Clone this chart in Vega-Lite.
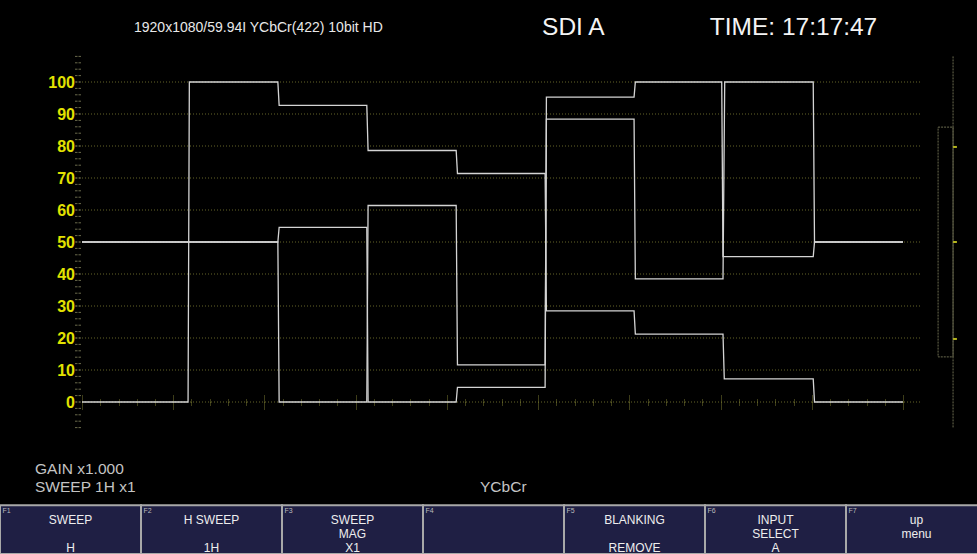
{
  "$schema": "https://vega.github.io/schema/vega-lite/v6.json",
  "width": 977,
  "height": 554,
  "autosize": {"type": "fit", "contains": "padding"},
  "padding": 0,
  "background": "#000000",
  "config": {"view": {"stroke": null}, "text": {"font": "Liberation Sans"}},
  "datasets": {
    "grid": [{"g": 0}, {"g": 10}, {"g": 20}, {"g": 30}, {"g": 40}, {"g": 50}, {"g": 60}, {"g": 70}, {"g": 80}, {"g": 90}, {"g": 100}],
    "yticks": [{"t": -8}, {"t": -6}, {"t": -4}, {"t": -2}, {"t": 0}, {"t": 2}, {"t": 4}, {"t": 6}, {"t": 8}, {"t": 10}, {"t": 12}, {"t": 14}, {"t": 16}, {"t": 18}, {"t": 20}, {"t": 22}, {"t": 24}, {"t": 26}, {"t": 28}, {"t": 30}, {"t": 32}, {"t": 34}, {"t": 36}, {"t": 38}, {"t": 40}, {"t": 42}, {"t": 44}, {"t": 46}, {"t": 48}, {"t": 50}, {"t": 52}, {"t": 54}, {"t": 56}, {"t": 58}, {"t": 60}, {"t": 62}, {"t": 64}, {"t": 66}, {"t": 68}, {"t": 70}, {"t": 72}, {"t": 74}, {"t": 76}, {"t": 78}, {"t": 80}, {"t": 82}, {"t": 84}, {"t": 86}, {"t": 88}, {"t": 90}, {"t": 92}, {"t": 94}, {"t": 96}, {"t": 98}, {"t": 100}, {"t": 102}, {"t": 104}, {"t": 106}, {"t": 108}],
    "trace": [
      {"sig": "Y", "x": 0, "v": 0}, {"sig": "Y", "x": 248, "v": 0}, {"sig": "Y", "x": 251, "v": 100}, {"sig": "Y", "x": 458, "v": 100},
      {"sig": "Y", "x": 461, "v": 92.7}, {"sig": "Y", "x": 666, "v": 92.7}, {"sig": "Y", "x": 669, "v": 78.6}, {"sig": "Y", "x": 875, "v": 78.6},
      {"sig": "Y", "x": 878, "v": 71.4}, {"sig": "Y", "x": 1083, "v": 71.4}, {"sig": "Y", "x": 1086, "v": 28.5}, {"sig": "Y", "x": 1291, "v": 28.5},
      {"sig": "Y", "x": 1294, "v": 21.2}, {"sig": "Y", "x": 1499, "v": 21.2}, {"sig": "Y", "x": 1502, "v": 7.2}, {"sig": "Y", "x": 1710, "v": 7.2},
      {"sig": "Y", "x": 1713, "v": 0}, {"sig": "Y", "x": 1920, "v": 0},
      {"sig": "Cb", "x": 0, "v": 50}, {"sig": "Cb", "x": 458, "v": 50}, {"sig": "Cb", "x": 461, "v": 0}, {"sig": "Cb", "x": 666, "v": 0},
      {"sig": "Cb", "x": 669, "v": 61.4}, {"sig": "Cb", "x": 875, "v": 61.4}, {"sig": "Cb", "x": 878, "v": 11.6}, {"sig": "Cb", "x": 1083, "v": 11.6},
      {"sig": "Cb", "x": 1086, "v": 88.4}, {"sig": "Cb", "x": 1291, "v": 88.4}, {"sig": "Cb", "x": 1294, "v": 38.5}, {"sig": "Cb", "x": 1499, "v": 38.5},
      {"sig": "Cb", "x": 1503, "v": 100}, {"sig": "Cb", "x": 1710, "v": 100}, {"sig": "Cb", "x": 1713, "v": 50}, {"sig": "Cb", "x": 1920, "v": 50},
      {"sig": "Cr", "x": 0, "v": 50}, {"sig": "Cr", "x": 458, "v": 50}, {"sig": "Cr", "x": 461, "v": 54.6}, {"sig": "Cr", "x": 666, "v": 54.6},
      {"sig": "Cr", "x": 669, "v": 0}, {"sig": "Cr", "x": 875, "v": 0}, {"sig": "Cr", "x": 878, "v": 4.6}, {"sig": "Cr", "x": 1083, "v": 4.6},
      {"sig": "Cr", "x": 1086, "v": 95.3}, {"sig": "Cr", "x": 1291, "v": 95.3}, {"sig": "Cr", "x": 1294, "v": 100}, {"sig": "Cr", "x": 1496, "v": 100},
      {"sig": "Cr", "x": 1499, "v": 45.4}, {"sig": "Cr", "x": 1710, "v": 45.4}, {"sig": "Cr", "x": 1713, "v": 50}, {"sig": "Cr", "x": 1920, "v": 50}
    ],
    "menu": [
      {"key": "F1", "l1": "SWEEP", "l2": "", "l3": "H"},
      {"key": "F2", "l1": "H SWEEP", "l2": "", "l3": "1H"},
      {"key": "F3", "l1": "SWEEP", "l2": "MAG", "l3": "X1"},
      {"key": "F4", "l1": "", "l2": "", "l3": ""},
      {"key": "F5", "l1": "BLANKING", "l2": "", "l3": "REMOVE"},
      {"key": "F6", "l1": "INPUT", "l2": "SELECT", "l3": "A"},
      {"key": "F7", "l1": "up", "l2": "menu", "l3": ""}
    ],
    "marks": [{"m": 79.7}, {"m": 50}, {"m": 19.7}]
  },
  "resolve": {"scale": {"x": "independent"}},
  "layer": [
    {
      "data": {"name": "grid"},
      "mark": {"type": "rule", "color": "#66662a", "strokeDash": [1, 2], "strokeWidth": 1},
      "encoding": {
        "x": {"datum": -14, "type": "quantitative", "scale": {"domain": [-191.8, 2093.0], "nice": false, "zero": false},
          "axis": {"orient": "bottom", "offset": -152, "title": null, "domain": false, "labels": false, "grid": false,
            "values": [0, 42.67, 85.33, 128, 170.67, 213.33, 256, 298.67, 341.33, 384, 426.67, 469.33, 512, 554.67, 597.33, 640, 682.67, 725.33, 768, 810.67, 853.33, 896, 938.67, 981.33, 1024, 1066.67, 1109.33, 1152, 1194.67, 1237.33, 1280, 1322.67, 1365.33, 1408, 1450.67, 1493.33, 1536, 1578.67, 1621.33, 1664, 1706.67, 1749.33, 1792, 1834.67, 1877.33, 1920],
            "tickColor": "#7a7a32", "tickDash": [1, 1], "tickWidth": 1,
            "tickSize": {"condition": {"test": "abs(datum.value/213.3333 - round(datum.value/213.3333)) < 0.01", "value": 7}, "value": 3.5}}},
        "x2": {"datum": 1964},
        "y": {"field": "g", "type": "quantitative", "scale": {"domain": [-47.5, 125.625], "nice": false, "zero": false}, "axis": null}
      }
    },
    {
      "data": {"name": "yticks"},
      "mark": {"type": "rule", "color": "#6a6a4c", "strokeDash": [2.5, 1], "strokeWidth": 1},
      "encoding": {
        "x": {"datum": -16.4, "type": "quantitative", "scale": {"domain": [-191.8, 2093.0], "nice": false, "zero": false}, "axis": null},
        "x2": {"datum": -2.3},
        "y": {"field": "t", "type": "quantitative", "scale": {"domain": [-47.5, 125.625], "nice": false, "zero": false}, "axis": null}
      }
    },
    {
      "data": {"name": "grid"},
      "mark": {"type": "text", "color": "#e2e200", "fontSize": 16, "fontWeight": "bold", "align": "right", "baseline": "middle", "dy": 1},
      "encoding": {
        "x": {"datum": -16.4, "type": "quantitative", "scale": {"domain": [-191.8, 2093.0], "nice": false, "zero": false}, "axis": null},
        "y": {"field": "g", "type": "quantitative", "scale": {"domain": [-47.5, 125.625], "nice": false, "zero": false}, "axis": null},
        "text": {"field": "g", "type": "quantitative"}
      }
    },
    {
      "data": {"name": "trace"},
      "mark": {"type": "line", "color": "#d4d4d4", "strokeWidth": 1.3, "interpolate": "linear"},
      "encoding": {
        "x": {"field": "x", "type": "quantitative", "scale": {"domain": [-191.8, 2093.0], "nice": false, "zero": false},
          "axis": {"orient": "top", "offset": -402, "title": null, "domain": false, "labels": false, "grid": false,
            "values": [0, 42.67, 85.33, 128, 170.67, 213.33, 256, 298.67, 341.33, 384, 426.67, 469.33, 512, 554.67, 597.33, 640, 682.67, 725.33, 768, 810.67, 853.33, 896, 938.67, 981.33, 1024, 1066.67, 1109.33, 1152, 1194.67, 1237.33, 1280, 1322.67, 1365.33, 1408, 1450.67, 1493.33, 1536, 1578.67, 1621.33, 1664, 1706.67, 1749.33, 1792, 1834.67, 1877.33, 1920],
            "tickColor": "#7a7a32", "tickDash": [1, 1], "tickWidth": 1,
            "tickSize": {"condition": {"test": "abs(datum.value/213.3333 - round(datum.value/213.3333)) < 0.01", "value": 7}, "value": 3.5}}},
        "y": {"field": "v", "type": "quantitative", "scale": {"domain": [-47.5, 125.625], "nice": false, "zero": false}, "axis": null},
        "detail": {"field": "sig"}
      }
    },
    {
      "data": {"values": [{"item": "range"}]},
      "mark": {"type": "rect", "filled": false, "stroke": "#6c6c50", "strokeDash": [2, 1], "strokeWidth": 1},
      "encoding": {
        "x": {"datum": 2002, "type": "quantitative", "scale": {"domain": [-191.8, 2093.0], "nice": false, "zero": false}, "axis": null},
        "x2": {"datum": 2037},
        "y": {"datum": 85.9, "type": "quantitative", "scale": {"domain": [-47.5, 125.625], "nice": false, "zero": false}, "axis": null},
        "y2": {"datum": 14.1}
      }
    },
    {
      "data": {"values": [{"item": "scale"}]},
      "mark": {"type": "rule", "color": "#6c6c50", "strokeDash": [2, 1], "strokeWidth": 1},
      "encoding": {
        "x": {"datum": 2037, "type": "quantitative", "scale": {"domain": [-191.8, 2093.0], "nice": false, "zero": false}, "axis": null},
        "y": {"datum": 108, "type": "quantitative", "scale": {"domain": [-47.5, 125.625], "nice": false, "zero": false}, "axis": null},
        "y2": {"datum": -8}
      }
    },
    {
      "data": {"name": "marks"},
      "mark": {"type": "rule", "color": "#b4b41e", "strokeWidth": 2},
      "encoding": {
        "x": {"datum": 2037, "type": "quantitative", "scale": {"domain": [-191.8, 2093.0], "nice": false, "zero": false}, "axis": null},
        "x2": {"datum": 2046},
        "y": {"field": "m", "type": "quantitative", "scale": {"domain": [-47.5, 125.625], "nice": false, "zero": false}, "axis": null}
      }
    },
    {
      "data": {"values": [{"item": "header"}]},
      "mark": {"type": "text", "text": "1920x1080/59.94I YCbCr(422) 10bit HD", "color": "#e8e8e8", "fontSize": 14, "align": "left", "baseline": "middle"},
      "encoding": {
        "x": {"datum": 121.6, "type": "quantitative", "scale": {"domain": [-191.8, 2093.0], "nice": false, "zero": false}, "axis": null},
        "y": {"datum": 116.9, "type": "quantitative", "scale": {"domain": [-47.5, 125.625], "nice": false, "zero": false}, "axis": null}
      }
    },
    {
      "data": {"values": [{"item": "input"}]},
      "mark": {"type": "text", "text": "SDI A", "color": "#f4f4f4", "fontSize": 24.5, "align": "left", "baseline": "middle"},
      "encoding": {
        "x": {"datum": 1075.8, "type": "quantitative", "scale": {"domain": [-191.8, 2093.0], "nice": false, "zero": false}, "axis": null},
        "y": {"datum": 116.9, "type": "quantitative", "scale": {"domain": [-47.5, 125.625], "nice": false, "zero": false}, "axis": null}
      }
    },
    {
      "data": {"values": [{"item": "time"}]},
      "mark": {"type": "text", "text": "TIME: 17:17:47", "color": "#f4f4f4", "fontSize": 24.5, "align": "left", "baseline": "middle"},
      "encoding": {
        "x": {"datum": 1468, "type": "quantitative", "scale": {"domain": [-191.8, 2093.0], "nice": false, "zero": false}, "axis": null},
        "y": {"datum": 116.9, "type": "quantitative", "scale": {"domain": [-47.5, 125.625], "nice": false, "zero": false}, "axis": null}
      }
    },
    {
      "data": {"values": [{"item": "gain"}]},
      "mark": {"type": "text", "text": "GAIN x1.000", "color": "#c4c4c4", "fontSize": 15.5, "align": "left", "baseline": "middle"},
      "encoding": {
        "x": {"datum": -109.9, "type": "quantitative", "scale": {"domain": [-191.8, 2093.0], "nice": false, "zero": false}, "axis": null},
        "y": {"datum": -20.94, "type": "quantitative", "scale": {"domain": [-47.5, 125.625], "nice": false, "zero": false}, "axis": null}
      }
    },
    {
      "data": {"values": [{"item": "sweep"}]},
      "mark": {"type": "text", "text": "SWEEP 1H x1", "color": "#c4c4c4", "fontSize": 15.5, "align": "left", "baseline": "middle"},
      "encoding": {
        "x": {"datum": -109.9, "type": "quantitative", "scale": {"domain": [-191.8, 2093.0], "nice": false, "zero": false}, "axis": null},
        "y": {"datum": -26.56, "type": "quantitative", "scale": {"domain": [-47.5, 125.625], "nice": false, "zero": false}, "axis": null}
      }
    },
    {
      "data": {"values": [{"item": "mode"}]},
      "mark": {"type": "text", "text": "YCbCr", "color": "#c4c4c4", "fontSize": 15.5, "align": "left", "baseline": "middle"},
      "encoding": {
        "x": {"datum": 930.8, "type": "quantitative", "scale": {"domain": [-191.8, 2093.0], "nice": false, "zero": false}, "axis": null},
        "y": {"datum": -26.56, "type": "quantitative", "scale": {"domain": [-47.5, 125.625], "nice": false, "zero": false}, "axis": null}
      }
    },
    {
      "data": {"name": "menu"},
      "mark": {"type": "rect", "fill": "#1f1f44", "stroke": "#a8a8a8", "strokeWidth": 2, "clip": true},
      "encoding": {
        "x": {"field": "key", "type": "nominal", "scale": {"type": "band", "domain": ["F1", "F2", "F3", "F4", "F5", "F6", "F7"], "range": [0, 987], "paddingInner": 0, "paddingOuter": 0}, "axis": null},
        "y": {"datum": -32.3, "type": "quantitative", "scale": {"domain": [-47.5, 125.625], "nice": false, "zero": false}, "axis": null},
        "y2": {"datum": -47.5}
      }
    },
    {
      "data": {"name": "menu"},
      "mark": {"type": "text", "color": "#bbbbbb", "fontSize": 7, "align": "left", "baseline": "middle", "dx": -68},
      "encoding": {
        "x": {"field": "key", "type": "nominal", "scale": {"type": "band", "domain": ["F1", "F2", "F3", "F4", "F5", "F6", "F7"], "range": [0, 987], "paddingInner": 0, "paddingOuter": 0}, "axis": null},
        "y": {"datum": -34.2, "type": "quantitative", "scale": {"domain": [-47.5, 125.625], "nice": false, "zero": false}, "axis": null},
        "text": {"field": "key"}
      }
    },
    {
      "data": {"name": "menu"},
      "mark": {"type": "text", "color": "#eeeeee", "fontSize": 12, "align": "center", "baseline": "middle"},
      "encoding": {
        "x": {"field": "key", "type": "nominal", "scale": {"type": "band", "domain": ["F1", "F2", "F3", "F4", "F5", "F6", "F7"], "range": [0, 987], "paddingInner": 0, "paddingOuter": 0}, "axis": null},
        "y": {"datum": -36.875, "type": "quantitative", "scale": {"domain": [-47.5, 125.625], "nice": false, "zero": false}, "axis": null},
        "text": {"field": "l1"}
      }
    },
    {
      "data": {"name": "menu"},
      "mark": {"type": "text", "color": "#eeeeee", "fontSize": 12, "align": "center", "baseline": "middle"},
      "encoding": {
        "x": {"field": "key", "type": "nominal", "scale": {"type": "band", "domain": ["F1", "F2", "F3", "F4", "F5", "F6", "F7"], "range": [0, 987], "paddingInner": 0, "paddingOuter": 0}, "axis": null},
        "y": {"datum": -41.25, "type": "quantitative", "scale": {"domain": [-47.5, 125.625], "nice": false, "zero": false}, "axis": null},
        "text": {"field": "l2"}
      }
    },
    {
      "data": {"name": "menu"},
      "mark": {"type": "text", "color": "#eeeeee", "fontSize": 12, "align": "center", "baseline": "middle"},
      "encoding": {
        "x": {"field": "key", "type": "nominal", "scale": {"type": "band", "domain": ["F1", "F2", "F3", "F4", "F5", "F6", "F7"], "range": [0, 987], "paddingInner": 0, "paddingOuter": 0}, "axis": null},
        "y": {"datum": -45.625, "type": "quantitative", "scale": {"domain": [-47.5, 125.625], "nice": false, "zero": false}, "axis": null},
        "text": {"field": "l3"}
      }
    }
  ]
}
